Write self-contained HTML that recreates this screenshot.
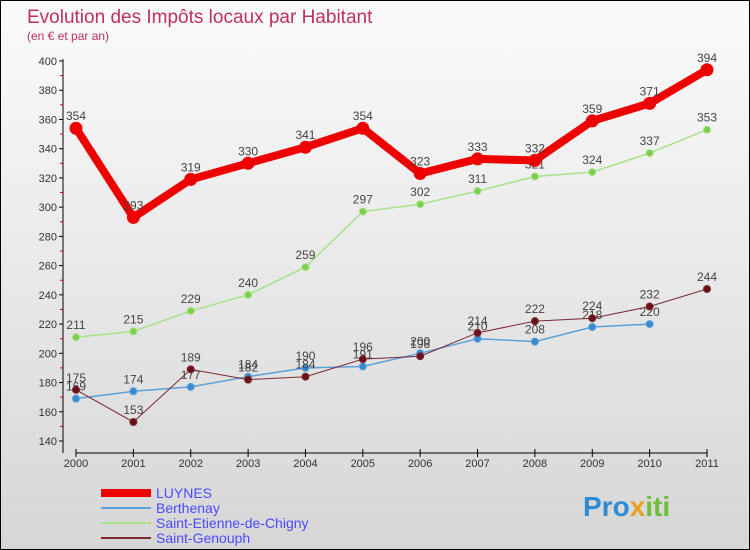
<!DOCTYPE html>
<html><head><meta charset="utf-8"><style>
body{margin:0}
#c{width:750px;height:550px;position:relative;box-sizing:border-box;border:1px solid #000;background:linear-gradient(#fbfbfb,#d6d6d6);font-family:"Liberation Sans",sans-serif;overflow:hidden}
</style></head><body>
<div id="c">
<svg id="s" width="750" height="550" style="position:absolute;left:0;top:0">
<text x="26" y="22" font-size="19" fill="#c0305a">Evolution des Impôts locaux par Habitant</text>
<text x="26" y="39" font-size="12" fill="#c0305a">(en € et par an)</text>
<g id="axes"></g><g id="series"></g><g id="legend"></g>
<text x="582" y="515" font-size="28" font-weight="bold" fill="#2e8bd6">Pro<tspan fill="#e8a020">x</tspan><tspan fill="#6cbf3a">iti</tspan></text>
</svg>
</div>
<script>
const years=[2000,2001,2002,2003,2004,2005,2006,2007,2008,2009,2010,2011];
const yTicks=[140,160,180,200,220,240,260,280,300,320,340,360,380,400];
const luynes=[354,293,319,330,341,354,323,333,332,359,371,394];
const berthenay=[169,174,177,184,190,191,200,210,208,218,220,null];
const stEtienne=[211,215,229,240,259,297,302,311,321,324,337,353];
const stGenouph=[175,153,189,182,184,196,198,214,222,224,232,244];
const NS="http://www.w3.org/2000/svg";
const X=i=>75+i*(706-75)/11;
const Y=v=>60+(400-v)*(440-60)/260;
function mk(t,a,p){const e=document.createElementNS(NS,t);for(const k in a)e.setAttribute(k,a[k]);p.appendChild(e);return e;}
const ax=document.getElementById('axes');
let yl=mk('line',{x1:62,y1:58,x2:62,y2:452,stroke:'#000'},ax);


let xl=mk('line',{x1:75,y1:452,x2:706,y2:452,stroke:'#000'},ax);


yTicks.forEach((v,i)=>{mk('line',{x1:58,x2:62,y1:Y(v),y2:Y(v),stroke:'#000'},ax);
 if(i<yTicks.length-1)mk('line',{x1:59,x2:62,y1:Y(v+10),y2:Y(v+10),stroke:'#d00'},ax);
 const t=mk('text',{x:56,y:Y(v)+4,'text-anchor':'end','font-size':11,fill:'#333'},ax);t.textContent=v;
 
 });
years.forEach((y,i)=>{mk('line',{x1:X(i),x2:X(i),y1:448,y2:456,stroke:'#000'},ax);
 const t=mk('text',{x:X(i),y:466,'text-anchor':'middle','font-size':11,fill:'#333'},ax);t.textContent=y;
 
 });
const sg=document.getElementById('series');
function draw(data,color,fill,w,r,name){
 const g=mk('g',{},sg);
 
 
 let d='';data.forEach((v,i)=>{if(v!=null)d+=(d?'L':'M')+X(i)+','+Y(v);});
 mk('path',{d:d,fill:'none',stroke:color,'stroke-width':w},g);
 data.forEach((v,i)=>{if(v==null)return;
  const c=mk('circle',{cx:X(i),cy:Y(v),r:r,fill:fill,stroke:color,'stroke-width':1},g);
  
  
  const t=mk('text',{x:X(i),y:Y(v)-8,'text-anchor':'middle','font-size':12,fill:'#444'},g);t.textContent=v;
  
  });
}
draw(berthenay,'#5aa0d8','#3a8ad0',1.5,3.5,'berthenay');
draw(stEtienne,'#a8e08a','#7ccf4a',1.5,3.5,'saint-etienne');
draw(stGenouph,'#7a2a30','#6a1018',1,3.5,'saint-genouph');
draw(luynes,'#ee0000','#ee0000',8,6,'luynes');
const lg=document.getElementById('legend');
[['LUYNES','#ee0000',8],['Berthenay','#5aa0d8',2],['Saint-Etienne-de-Chigny','#a8e08a',2],['Saint-Genouph','#7a2a30',2]].forEach((e,i)=>{
 const y=492+i*15;
 const g=mk('g',{},lg);
 
 
 mk('line',{x1:100,x2:150,y1:y,y2:y,stroke:e[1],'stroke-width':e[2]},g);
 const t=mk('text',{x:155,y:y+5,'font-size':14,fill:'#4a4aff'},g);t.textContent=e[0];});
</script>
</body></html>
